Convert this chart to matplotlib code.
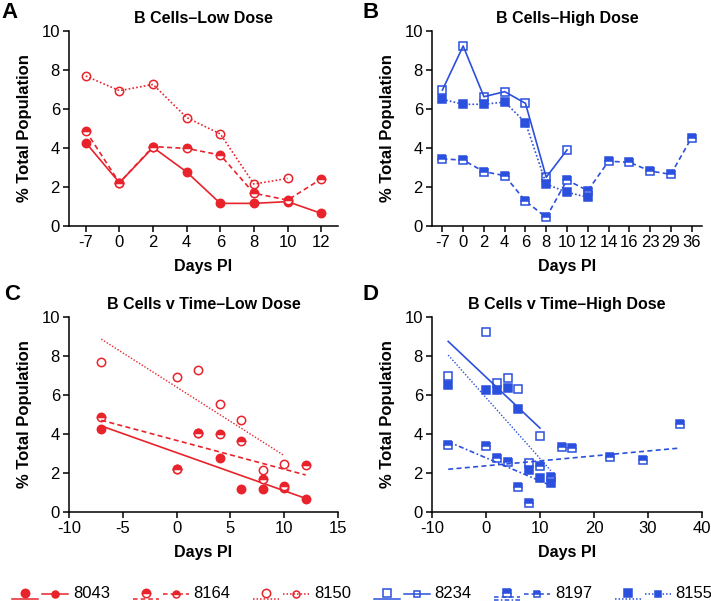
import numpy as np
import matplotlib.pyplot as plt

plt.rcParams['font.family'] = ['Liberation Sans', 'DejaVu Sans']
plt.rcParams['axes.unicode_minus'] = False

nan = np.nan

# ---- data ----
days_low = [-7, 0, 2, 4, 6, 8, 10, 12]
b8043 = [4.27, 2.22, 4.03, 2.77, 1.16, 1.16, 1.25, 0.65]
b8164 = [4.87, 2.22, 4.07, 3.98, 3.64, 1.68, 1.33, 2.41]
b8150 = [7.69, 6.94, 7.26, 5.56, 4.72, 2.15, 2.44, nan]

days_high = [-7, 0, 2, 4, 6, 8, 10, 12, 14, 16, 23, 29, 36]
b8234 = [6.97, 9.23, 6.63, 6.89, 6.29, 2.5, 3.9, nan, nan, nan, nan, nan, nan]
b8197 = [3.44, 3.38, 2.79, 2.58, 1.28, 0.44, 2.36, 1.81, 3.32, 3.27, 2.82, 2.65, 4.53]
b8155 = [6.5, 6.24, 6.24, 6.36, 5.3, 2.15, 1.73, 1.47, nan, nan, nan, nan, nan]

RED = '#e8232b'
BLUE = '#2b50de'

DASH = (0, (3, 2))
DOT = (0, (1, 1.3))
DASHDOT = (0, (3, 1.5, 1, 1.5))

# label, values, colour, marker, fillstyle, line style, fit styles
low_series = [
    ('8043', b8043, RED, 'o', 'full', '-', ['-']),
    ('8164', b8164, RED, 'o', 'top', DASH, [DASH]),
    ('8150', b8150, RED, 'o', 'none', DOT, [DOT]),
]
high_series = [
    ('8234', b8234, BLUE, 's', 'none', '-', ['-']),
    ('8197', b8197, BLUE, 's', 'top', DASH, [DASH, DASHDOT]),
    ('8155', b8155, BLUE, 's', 'full', DOT, [DOT]),
]

MS = 6
LW = 1.2


def marker_kw(color, marker, fill):
    kw = dict(marker=marker, markersize=MS, markeredgecolor=color, markeredgewidth=1.1)
    if fill == 'none':
        kw['markerfacecolor'] = 'none'
    elif fill == 'top':
        kw.update(fillstyle='top', markerfacecolor=color, markerfacecoloralt='white')
    else:
        kw['markerfacecolor'] = color
    return kw


fig = plt.figure(figsize=(7.11, 6.01), dpi=100)
W, H = 711, 601


def add_ax(l, r, t, b):
    return fig.add_axes([l / W, 1 - b / H, (r - l) / W, (b - t) / H])


def style_axes(ax, title, letter, lx, ly):
    for s in ['top', 'right']:
        ax.spines[s].set_visible(False)
    for s in ['left', 'bottom']:
        ax.spines[s].set_linewidth(1.1)
    ax.tick_params(direction='out', length=4, width=1.1, labelsize=12, pad=2.5)
    ax.set_ylim(0, 10)
    ax.set_yticks(range(0, 11, 2))
    ax.set_title(title, fontsize=11.5, fontweight='bold', pad=6)
    ax.set_ylabel('% Total Population', fontsize=12, fontweight='bold', va='center')
    ax.yaxis.set_label_coords(-0.165, 0.5)
    ax.set_xlabel('Days PI', fontsize=11.5, fontweight='bold', va='center')
    ax.xaxis.set_label_coords(0.5, -0.21)
    fig.text(lx / W, 1 - ly / H, letter, fontsize=16, fontweight='bold',
             ha='left', va='center')


axA = add_ax(69, 338, 31, 226)
axB = add_ax(432, 702, 31, 226)
axC = add_ax(69, 338, 317, 512)
axD = add_ax(432, 702, 317, 512)

# ---- A: low dose, categorical days ----
pos_low = np.arange(len(days_low))
for name, vals, c, m, f, ls, fits in low_series:
    v = np.array(vals)
    ok = ~np.isnan(v)
    axA.plot(pos_low[ok], v[ok], color=c, lw=LW, linestyle=ls, clip_on=False,
             **marker_kw(c, m, f))
axA.set_xlim(-0.5, len(days_low) - 0.5)
axA.set_xticks(pos_low, [str(d) for d in days_low])
style_axes(axA, 'B Cells\u2013Low Dose', 'A', 1, 13)

# ---- B: high dose, categorical days ----
pos_high = np.arange(len(days_high))
for name, vals, c, m, f, ls, fits in high_series:
    v = np.array(vals)
    ok = ~np.isnan(v)
    axB.plot(pos_high[ok], v[ok], color=c, lw=LW, linestyle=ls, clip_on=False,
             **marker_kw(c, m, f))
axB.set_xlim(-0.5, len(days_high) - 0.5)
axB.set_xticks(pos_high, [str(d) for d in days_high])
style_axes(axB, 'B Cells\u2013High Dose', 'B', 363, 12)


# ---- C / D: scatter vs time with linear fits ----
def fit_line(ax, x, y, c, ls, upto=None):
    x = np.array(x, float)
    y = np.array(y, float)
    ok = ~np.isnan(y)
    if upto is not None:
        ok &= x <= upto
    k, b0 = np.polyfit(x[ok], y[ok], 1)
    xs = np.array([x[ok].min(), x[ok].max()])
    ax.plot(xs, k * xs + b0, color=c, linestyle=ls, lw=LW if ls != DOT else 1.0)


for name, vals, c, m, f, ls, fits in low_series:
    axC.plot(days_low, vals, linestyle='none', clip_on=False, **marker_kw(c, m, f))
    fit_line(axC, days_low, vals, c, fits[0])
axC.set_xlim(-10, 15)
axC.set_xticks(range(-10, 16, 5))
style_axes(axC, 'B Cells v Time\u2013Low Dose', 'C', 4, 295)

for name, vals, c, m, f, ls, fits in high_series:
    axD.plot(days_high, vals, linestyle='none', clip_on=False, **marker_kw(c, m, f))
    fit_line(axD, days_high, vals, c, fits[0])
    if len(fits) > 1:
        fit_line(axD, days_high, vals, c, fits[1], upto=12)
axD.set_xlim(-10, 40)
axD.set_xticks(range(-10, 41, 10))
style_axes(axD, 'B Cells v Time\u2013High Dose', 'D', 363, 294)

# ---- legend strip along the bottom ----
lg = fig.add_axes([0, 0, 1, 40 / H])
lg.set_xlim(0, W)
lg.set_ylim(40, 0)
lg.axis('off')
x0 = 25
for name, vals, c, m, f, ls, fits in low_series + high_series:
    lg.plot([x0], [32], linestyle='none', clip_on=False, **marker_kw(c, m, f))
    for i, fs in enumerate(fits):
        yy = 38 if len(fits) == 1 else 36 + 3 * i
        lg.plot([x0 - 13, x0 + 13], [yy, yy], color=c, linestyle=fs, lw=1.1, clip_on=False)
    lg.plot([x0 + 17, x0 + 43], [33, 33], color=c, linestyle=ls, lw=1.1, clip_on=False)
    lg.plot([x0 + 30], [33], linestyle='none', clip_on=False,
            **dict(marker_kw(c, m, f), markersize=5))
    lg.text(x0 + 48, 33, name, fontsize=12, va='center', ha='left')
    x0 += 120.5

fig.savefig('out.png', dpi=100)
